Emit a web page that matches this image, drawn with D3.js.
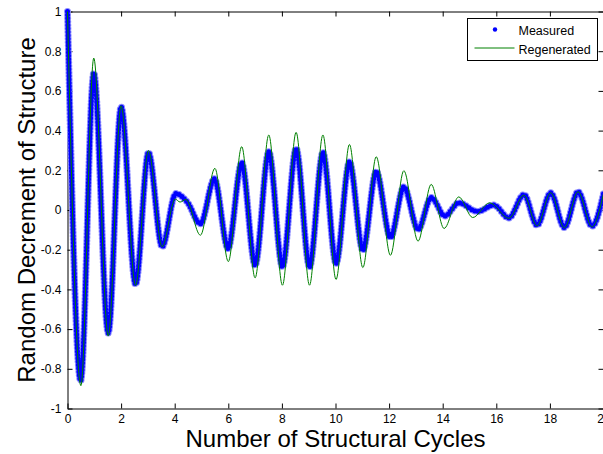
<!DOCTYPE html>
<html>
<head>
<meta charset="utf-8">
<script src="https://cdn.jsdelivr.net/npm/d3@7"></script>
<style>
  body { margin: 0; background: #fff; }
  svg { display: block; }
  text { font-family: "Liberation Sans", Arial, sans-serif; fill: #000; }
</style>
</head>
<body>
<script>
// peaks and troughs (x in structural cycles)
const measuredCycles = [0, 0.49, 0.98, 1.52, 2.0, 2.54, 3.02, 3.53, 4.04, 4.47, 4.96, 5.48, 5.99, 6.5, 7.0, 7.51, 8.02, 8.53, 9.03, 9.53, 10.02, 10.52, 11.02, 11.52, 12.05, 12.55, 13.08, 13.57, 14.08, 14.6, 15.3, 15.9, 16.47, 17.03, 17.52, 18.03, 18.54, 19.05, 19.57, 20];
const measuredValues = [1.0, -0.86, 0.69, -0.62, 0.52, -0.375, 0.29, -0.185, 0.083, 0.04, -0.07, 0.157, -0.194, 0.238, -0.278, 0.294, -0.287, 0.31, -0.287, 0.29, -0.27, 0.243, -0.203, 0.195, -0.139, 0.117, -0.098, 0.063, -0.03, 0.036, -0.008, 0.025, -0.04, 0.078, -0.077, 0.087, -0.088, 0.092, -0.082, 0.083];

const regenCycles = [0, 0.5, 0.98, 1.52, 2.0, 2.54, 3.02, 3.53, 4.02, 4.2, 4.42, 4.96, 5.5, 6.0, 6.5, 7.0, 7.51, 8.02, 8.53, 9.03, 9.53, 10.02, 10.52, 11.02, 11.52, 12.05, 12.55, 13.08, 13.57, 14.05, 14.6, 15.12, 15.75, 16.47, 17.03, 17.52, 18.03, 18.54, 19.05, 19.57, 20];
const regenValues = [1.0, -0.885, 0.765, -0.635, 0.525, -0.38, 0.3, -0.185, 0.055, 0.04, 0.053, -0.127, 0.21, -0.26, 0.319, -0.342, 0.378, -0.379, 0.391, -0.379, 0.378, -0.35, 0.33, -0.29, 0.268, -0.228, 0.198, -0.157, 0.129, -0.093, 0.066, -0.038, 0.036, -0.042, 0.075, -0.08, 0.087, -0.09, 0.092, -0.085, 0.083];

const xTicks = [0, 2, 4, 6, 8, 10, 12, 14, 16, 18, 20];
const yTicks = [-1, -0.8, -0.6, -0.4, -0.2, 0, 0.2, 0.4, 0.6, 0.8, 1];
const seriesNames = ["Measured", "Regenerated"];

const W = 603, H = 454;
const BLUE = "#0000ff", GREEN = "#008000";

const svg = d3.select("body").append("svg")
  .attr("width", W)
  .attr("height", H)
  .style("background-color", "#fff");

const x = d3.scaleLinear().domain([0, 20]).range([67.5, 603.5]);
const y = d3.scaleLinear().domain([-1, 1]).range([408.5, 11.5]);

const fmt = d => String(Math.round(d * 10) / 10);

// axes, ticks pointing inward like matlab
function styleAxis(g) {
  g.select(".domain").attr("stroke", "#000");
  g.selectAll(".tick line").attr("stroke", "#000");
  g.selectAll(".tick text").attr("font-size", 12).attr("fill", "#000")
    .attr("font-family", "'Liberation Sans', Arial, sans-serif");
}

svg.append("g")
  .attr("transform", "translate(0," + y(-1) + ")")
  .call(d3.axisBottom(x).tickValues(xTicks).tickFormat(fmt).tickSizeInner(-5).tickSizeOuter(0).tickPadding(6))
  .call(styleAxis);

svg.append("g")
  .attr("transform", "translate(0," + y(1) + ")")
  .call(d3.axisTop(x).tickValues(xTicks).tickFormat("").tickSizeInner(-5).tickSizeOuter(0))
  .call(styleAxis);

svg.append("g")
  .attr("transform", "translate(" + x(0) + ",0)")
  .call(d3.axisLeft(y).tickValues(yTicks).tickFormat(fmt).tickSizeInner(-5).tickSizeOuter(0).tickPadding(6))
  .call(styleAxis);

svg.append("g")
  .attr("transform", "translate(" + x(20) + ",0)")
  .call(d3.axisRight(y).tickValues(yTicks).tickFormat("").tickSizeInner(-5).tickSizeOuter(0))
  .call(styleAxis);

// curves
const line = d3.line()
  .x(d => x(d[0]))
  .y(d => y(d[1]))
  .curve(d3.curveMonotoneX);

const measured = d3.zip(measuredCycles, measuredValues);
const regen = d3.zip(regenCycles, regenValues);

// measured: dense markers -> dotted thick stroke
svg.append("path")
  .attr("d", line(measured))
  .attr("fill", "none")
  .attr("stroke", "#8c8cff")
  .attr("stroke-width", 7)
  .attr("stroke-linecap", "round")
  .attr("stroke-dasharray", "0 3.4");

svg.append("path")
  .attr("d", line(measured))
  .attr("fill", "none")
  .attr("stroke", BLUE)
  .attr("stroke-width", 5)
  .attr("stroke-linecap", "round")
  .attr("stroke-dasharray", "0 3.4");

svg.append("path")
  .attr("d", line(regen))
  .attr("fill", "none")
  .attr("stroke", GREEN)
  .attr("stroke-width", 1);

// axis labels
svg.append("text")
  .attr("x", (x(0) + x(20)) / 2)
  .attr("y", 447)
  .attr("text-anchor", "middle")
  .attr("font-size", 24)
  .text("Number of Structural Cycles");

svg.append("text")
  .attr("transform", "translate(35," + (y(0)) + ") rotate(-90)")
  .attr("text-anchor", "middle")
  .attr("font-size", 24)
  .text("Random Decrement of Structure");

// legend
const lg = svg.append("g").attr("transform", "translate(467.5,18.5)");
lg.append("rect")
  .attr("width", 130)
  .attr("height", 42)
  .attr("fill", "#fff")
  .attr("stroke", "#000");

lg.append("circle")
  .attr("cx", 27.5).attr("cy", 11)
  .attr("r", 2.2)
  .attr("fill", BLUE);

lg.append("line")
  .attr("x1", 7).attr("x2", 47)
  .attr("y1", 29.5).attr("y2", 29.5)
  .attr("stroke", GREEN);

lg.selectAll("text.leg")
  .data(seriesNames)
  .join("text")
  .attr("class", "leg")
  .attr("x", 51)
  .attr("y", (d, i) => 16 + i * 19)
  .attr("font-size", 12.5)
  .text(d => d);
</script>
</body>
</html>
